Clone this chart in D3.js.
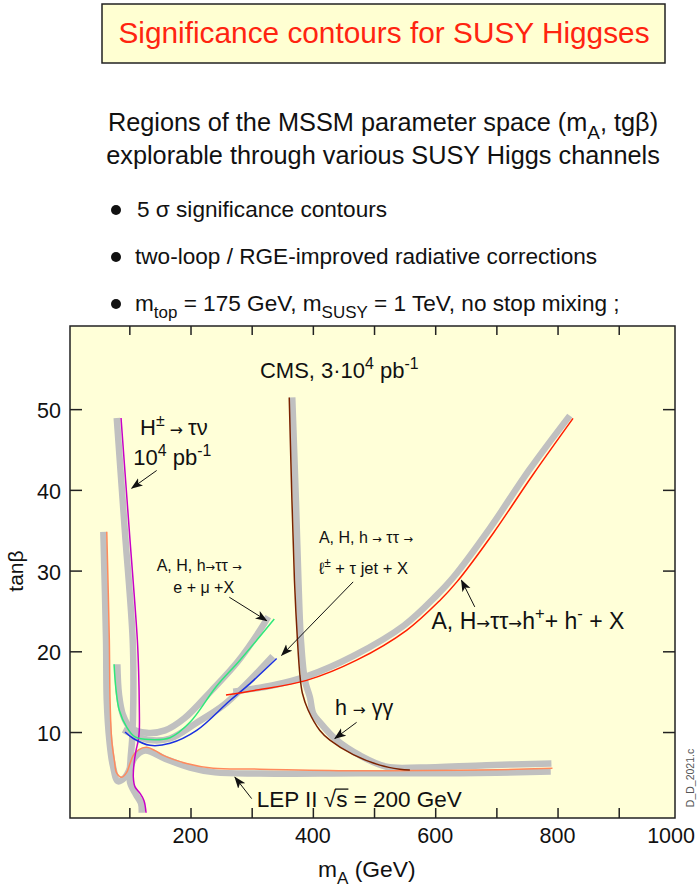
<!DOCTYPE html>
<html lang="en">
<head>
<meta charset="UTF-8">
<title>Significance contours for SUSY Higgses</title>
<script src="https://d3js.org/d3.v7.min.js"></script>
<style>
  body { margin: 0; background: #fff; }
  svg text { font-family: "Liberation Sans", Arial, Helvetica, sans-serif; fill: #111; }
  svg tspan.arw { font-family: "DejaVu Sans", sans-serif; }
</style>
</head>
<body>
<div id="chart"></div>
<script>
// axis values
const xTickValues = [100, 200, 300, 400, 500, 600, 700, 800, 900];
const xTickLabels = [200, 400, 600, 800, 1000];
const yTickValues = [10, 20, 30, 40, 50];
const xDomain = [3, 992];
const yDomain = [-0.65, 60.3];

// contours, [mA (GeV), tan beta]; band = thick grey curve, line = thin coloured curve
const chargedBand = [[79.4,48.9],[92.5,35.1],[105.5,21.4],[106.5,13.9],[104.5,9.0],[101.9,6.5],[101.1,3.8],[110.5,2.3],[119,1.2],[120.2,0]];
const chargedLine = [[86.4,48.9],[99.8,35.1],[113.1,21.4],[115.3,17.2],[116.3,13.1],[116.3,10.2],[114.7,9.0],[110.9,7.7],[107.7,6.1],[106.5,4.4],[109.3,3.2],[117.5,2.4],[124,1.5],[127.3,0]];
const lepBand = [[57.5,34.8],[61.9,21.4],[63.1,13.9],[67.3,9.0],[72.9,5.9],[81.5,3.9],[93.0,4.4],[101.1,5.5],[109.3,6.9],[125.6,7.7],[158.3,6.7],[199.2,5.6],[240,5.0],[313.5,4.85],[476.9,4.9],[640.3,4.9],[788.9,5.1]];
const lepLine = [[63.1,34.8],[67.3,21.4],[68.5,13.9],[71.2,9.0],[75.5,6.5],[79.4,4.9],[87.6,4.4],[95.7,5.0],[101.1,6.1],[106.5,7.1],[115,7.8],[128.4,8.1],[142,7.7],[155.5,7.1],[193.8,6.1],[237.2,5.5],[313.5,5.4],[476.9,5.2],[640.3,5.25],[791.7,5.5]];
const emuBand = [[80.4,18.4],[83.2,14.6],[89.7,12.1],[101.1,10.6],[128.4,9.9],[158.3,10.2],[190,11.7],[234,15.1],[277,18.7],[313.5,22.6],[327.1,24.3]];
const emuLine = [[75.0,18.4],[78.3,15.2],[83.6,12.7],[95.7,10.6],[109.3,9.4],[133.8,9.06],[166.5,9.3],[199.1,11.2],[242.8,15.7],[280.8,18.9],[336.9,24.0]];
const lepTauBand = [[90.2,10.3],[109.3,9.6],[133.8,9.0],[166.5,9.2],[208.9,11.1],[253.6,13.3],[291.8,16.0],[334.3,19.4]];
const lepTauLine = [[93.0,10.0],[106.5,9.2],[133.8,8.35],[166.5,8.6],[210.1,10.2],[264.5,13.9],[297.2,16.0],[340.8,19.1]];
const hadTauBand = [[269.9,15.0],[335.2,15.8],[389.8,16.9],[468,19.5],[549,23.2],[602,26.9],[630,29.2],[689,35.2],[754,42.5],[820,49.2]];
const hadTauLine = [[258.0,14.6],[308.1,15.2],[389.8,16.4],[471.5,18.9],[553.2,22.6],[607.6,26.3],[635.4,28.6],[694.6,34.6],[760,41.9],[825.3,48.85]];
const gammaBand = [[366.3,51.45],[372.3,38.7],[376.4,28.8],[380.5,21.4],[387.0,16.4],[395.2,14.3],[400.6,12.3],[411.5,11.2],[438.8,9.0],[476.9,7.1],[520.5,5.7],[574.9,5.6],[683.8,5.9],[790,6.1]];
const gammaLine = [[361.4,51.45],[365.8,38.7],[369.9,28.8],[374.8,21.4],[378.9,17.0],[382.9,14.8],[392.4,12.7],[411.5,10.2],[427.9,9.0],[466,7.2],[509.6,5.9],[542.2,5.4],[558.6,5.3]];

const curves = [
  { band: lepBand, line: lepLine, color: "#ff8a5c" },
  { band: chargedBand, line: chargedLine, color: "#c800c8" },
  { band: emuBand, line: emuLine, color: "#2ee87a" },
  { band: lepTauBand, line: lepTauLine, color: "#1a30e0" },
  { band: hadTauBand, line: hadTauLine, color: "#ff1e00" },
  { band: gammaBand, line: gammaLine, color: "#7a2200" }
];

// annotation texts anchored in data space
const labels = [
  { at: [313.5, 53.8], size: 22, parts: [{t: "CMS, 3·10"}, {t: "4", sup: 1}, {t: " pb"}, {t: "-1", sup: 1}] },
  { at: [117.5, 46.8], size: 22, parts: [{t: "H"}, {t: "±", sup: 1}, {t: " → ", arrow: 1}, {t: "τν"}] },
  { at: [106.5, 43.1], size: 22, parts: [{t: "10"}, {t: "4", sup: 1}, {t: " pb"}, {t: "-1", sup: 1}] },
  { at: [144.7, 30.0], size: 16, parts: [{t: "A, H, h"}, {t: "→", arrow: 1}, {t: "ττ "}, {t: "→", arrow: 1}] },
  { at: [171.9, 27.2], size: 16, parts: [{t: "e + μ +X"}] },
  { at: [409.9, 33.4], size: 16, parts: [{t: "A, H, h "}, {t: "→", arrow: 1}, {t: "  ττ "}, {t: "→", arrow: 1}] },
  { at: [409.9, 29.6], size: 16.5, parts: [{t: "ℓ"}, {t: "±", sup: 1}, {t: " + τ jet +  X"}] },
  { at: [594, 22.8], size: 23, parts: [{t: "A, H"}, {t: "→", arrow: 1}, {t: "ττ"}, {t: "→", arrow: 1}, {t: "h"}, {t: "+", sup: 1}, {t: "+ h"}, {t: "-", sup: 1}, {t: " + X"}] },
  { at: [436, 12.1], size: 21.5, parts: [{t: "h "}, {t: "→", arrow: 1}, {t: " γγ"}] },
  { at: [308.1, 0.7], size: 22.5, parts: [{t: "LEP II "}, {t: "√"}, {t: "s", over: 1}, {t: " = 200 GeV"}] }
];
const arrows = [
  [[144.7, 42.4], [103.9, 40.2]],
  [[263.4, 26.7], [324.5, 23.8]],
  [[465.9, 28.6], [349.0, 19.5]],
  [[664.7, 25.5], [643.0, 28.8]],
  [[471.5, 11.2], [436.0, 9.2]],
  [[300.0, 1.75], [272.7, 4.4]]
];

const width = 697, height = 891;
const svg = d3.select("#chart").append("svg")
  .attr("width", width).attr("height", height);

svg.append("defs").append("marker")
  .attr("id", "head")
  .attr("viewBox", "0 -5 12 10")
  .attr("refX", 11).attr("refY", 0)
  .attr("markerWidth", 12).attr("markerHeight", 10)
  .attr("markerUnits", "userSpaceOnUse")
  .attr("orient", "auto")
  .append("path")
  .attr("d", "M0,-4.5L12,0L0,4.5L3,0Z")
  .attr("fill", "#111");

// helper for text with super/subscripts
function richText(g, x, y, parts, size) {
  const t = g.append("text").attr("x", x).attr("y", y).attr("font-size", size);
  let shift = 0;
  const overs = [];
  parts.forEach(p => {
    let target = 0, fs = size;
    if (p.sup) { target = -size * 0.42; fs = size * 0.72; }
    if (p.sub) { target = size * 0.3; fs = size * 0.75; }
    if (p.arrow) { target = 0; fs = size * 0.72; }
    const ts = t.append("tspan").attr("dy", target - shift).attr("font-size", fs).text(p.t);
    if (p.arrow) ts.attr("class", "arw");
    if (p.over) overs.push(ts.node());
    shift = target;
  });
  // bar over radicand, joined to the root sign
  overs.forEach(n => {
    const s = n.getStartPositionOfChar(0);
    const w = n.getComputedTextLength();
    g.append("line")
      .attr("x1", s.x - 1).attr("x2", s.x + w + 1)
      .attr("y1", s.y - size * 0.8).attr("y2", s.y - size * 0.8)
      .attr("stroke", "#111").attr("stroke-width", 1.3);
  });
  return t;
}

// title box
const head = svg.append("g");
head.append("rect")
  .attr("x", 102).attr("y", 4).attr("width", 563).attr("height", 59)
  .attr("fill", "#ffffd2").attr("stroke", "#222").attr("stroke-width", 1.5);
head.append("text")
  .attr("x", 384).attr("y", 43)
  .attr("text-anchor", "middle").attr("font-size", 29.8)
  .style("fill", "#ff2410")
  .text("Significance contours for SUSY Higgses");

const sub1 = richText(head, 383, 131, [{t: "Regions of the MSSM parameter space (m"}, {t: "A", sub: 1}, {t: ", tgβ)"}], 25.3);
sub1.attr("text-anchor", "middle");
head.append("text")
  .attr("x", 383).attr("y", 164)
  .attr("text-anchor", "middle").attr("font-size", 25.3)
  .text("explorable through various SUSY Higgs channels");

const bullets = [
  [{t: "5 σ significance contours"}],
  [{t: "two-loop / RGE-improved radiative corrections"}],
  [{t: "m"}, {t: "top", sub: 1}, {t: " = 175 GeV, m"}, {t: "SUSY", sub: 1}, {t: " = 1 TeV, no stop mixing ;"}]
];
bullets.forEach((b, i) => {
  const by = 217 + i * 47;
  head.append("circle").attr("cx", 116).attr("cy", by - 7).attr("r", 5).attr("fill", "#111");
  richText(head, i === 0 ? 137 : 135, by, b, 22.6);
});

// plot
const x = d3.scaleLinear().domain(xDomain).range([70, 675]);
const y = d3.scaleLinear().domain(yDomain).range([818, 326]);

svg.append("rect")
  .attr("x", x(xDomain[0])).attr("y", y(yDomain[1]))
  .attr("width", x(xDomain[1]) - x(xDomain[0]))
  .attr("height", y(yDomain[0]) - y(yDomain[1]))
  .attr("fill", "#ffffd8");

const line = d3.line()
  .x(d => x(d[0])).y(d => y(d[1]))
  .curve(d3.curveCatmullRom.alpha(0.5));

const plot = svg.append("g");
plot.selectAll("path.band")
  .data(curves).enter().append("path")
  .attr("class", "band")
  .attr("d", d => line(d.band))
  .attr("fill", "none").attr("stroke", "#c0c0c0")
  .attr("stroke-width", 6.5).attr("stroke-linejoin", "round");
plot.selectAll("path.curve")
  .data(curves).enter().append("path")
  .attr("class", "curve")
  .attr("d", d => line(d.line))
  .attr("fill", "none").attr("stroke", d => d.color)
  .attr("stroke-width", 1.5);

// axes with inward ticks
function styleAxis(g) {
  g.select(".domain").remove();
  g.selectAll(".tick line").attr("stroke", "#222").attr("stroke-width", 1.5);
  g.selectAll(".tick text").remove();
}
svg.append("g").attr("transform", `translate(0,${y(yDomain[0])})`)
  .call(d3.axisBottom(x).tickValues(xTickValues).tickSize(-10)).call(styleAxis);
svg.append("g").attr("transform", `translate(0,${y(yDomain[1])})`)
  .call(d3.axisTop(x).tickValues(xTickValues).tickSize(-9)).call(styleAxis);
svg.append("g").attr("transform", `translate(${x(xDomain[0])},0)`)
  .call(d3.axisLeft(y).tickValues(yTickValues).tickSize(-12)).call(styleAxis);
svg.append("g").attr("transform", `translate(${x(xDomain[1])},0)`)
  .call(d3.axisRight(y).tickValues(yTickValues).tickSize(-12)).call(styleAxis);

svg.append("rect")
  .attr("x", x(xDomain[0])).attr("y", y(yDomain[1]))
  .attr("width", x(xDomain[1]) - x(xDomain[0]))
  .attr("height", y(yDomain[0]) - y(yDomain[1]))
  .attr("fill", "none").attr("stroke", "#222").attr("stroke-width", 1.5);

// tick labels
svg.selectAll("text.xlab")
  .data(xTickLabels).enter().append("text")
  .attr("class", "xlab")
  .attr("y", 843).attr("font-size", 21.5).attr("text-anchor", "middle")
  .text(d => d)
  .attr("x", function (d) {
    const w = this.getComputedTextLength();
    return Math.min(x(d), width - 2 - w / 2);
  });
svg.selectAll("text.ylab")
  .data(yTickValues).enter().append("text")
  .attr("class", "ylab")
  .attr("x", 61).attr("y", d => y(d) + 9)
  .attr("font-size", 21.5).attr("text-anchor", "end")
  .text(d => d);

// axis titles
svg.append("text")
  .attr("transform", "translate(23,571) rotate(-90)")
  .attr("text-anchor", "middle").attr("font-size", 21)
  .text("tanβ");
richText(svg, 318, 877, [{t: "m"}, {t: "A", sub: 1}, {t: " (GeV)"}], 22.8);
svg.append("text")
  .attr("transform", "translate(694,778) rotate(-90)")
  .attr("text-anchor", "middle").attr("font-size", 10.5)
  .style("fill", "#555")
  .text("D_D_2021.c");

// annotations
const notes = svg.append("g");
labels.forEach(l => richText(notes, x(l.at[0]), y(l.at[1]), l.parts, l.size));
notes.selectAll("line.arrow")
  .data(arrows).enter().append("line")
  .attr("class", "arrow")
  .attr("x1", d => x(d[0][0])).attr("y1", d => y(d[0][1]))
  .attr("x2", d => x(d[1][0])).attr("y2", d => y(d[1][1]))
  .attr("stroke", "#111").attr("stroke-width", 1)
  .attr("marker-end", "url(#head)");
</script>
</body>
</html>
